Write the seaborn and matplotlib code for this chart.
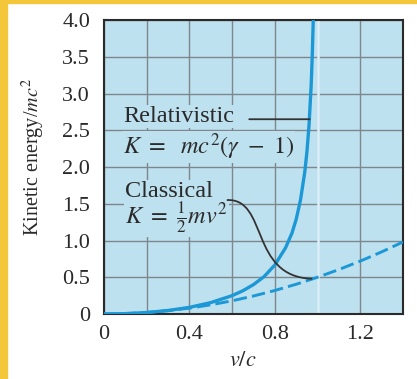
"""Kinetic energy vs v/c: relativistic and classical curves."""
import matplotlib
matplotlib.use("Agg")
import matplotlib.pyplot as plt
from matplotlib.patches import Rectangle, PathPatch
from matplotlib.path import Path
import pandas as pd
import seaborn as sns

# values
rel_v = [0.0, 0.1, 0.2, 0.3, 0.4, 0.5, 0.6, 0.65, 0.7, 0.75, 0.8, 0.85, 0.88,
         0.9, 0.92, 0.94, 0.95, 0.96, 0.97, 0.975, 0.98]
rel_k = [0.0, 0.005, 0.02, 0.048, 0.09, 0.155, 0.25, 0.316, 0.40, 0.51, 0.667,
         0.90, 1.10, 1.29, 1.55, 1.93, 2.20, 2.57, 3.11, 3.50, 4.02]
cls_v = [0.0, 0.1, 0.2, 0.3, 0.4, 0.5, 0.6, 0.7, 0.8, 0.9, 1.0, 1.1, 1.2, 1.3, 1.4]
cls_k = [0.0, 0.005, 0.02, 0.045, 0.08, 0.125, 0.18, 0.245, 0.32, 0.405, 0.5,
         0.605, 0.72, 0.845, 0.98]
x_ticks = [0.0, 0.2, 0.4, 0.6, 0.8, 1.0, 1.2, 1.4]
x_labels = ["0", "", "0.4", "", "0.8", "", "1.2", ""]
y_ticks = [0.0, 0.5, 1.0, 1.5, 2.0, 2.5, 3.0, 3.5, 4.0]
y_labels = ["0", "0.5", "1.0", "1.5", "2.0", "2.5", "3.0", "3.5", "4.0"]

BG = "#bee1ef"
CURVE = "#1b98d5"
YELLOW = "#f4c73a"
INK = "#2a2a2a"

sns.set_style("white")
plt.rcParams["font.family"] = ["Liberation Serif", "DejaVu Serif"]
plt.rcParams["mathtext.fontset"] = "stix"

rel = pd.DataFrame({"v": rel_v, "K": rel_k})
cls = pd.DataFrame({"v": cls_v, "K": cls_k})

fig = plt.figure(figsize=(4.17, 3.79), dpi=100)
ax = fig.add_axes([104 / 417, 65 / 379, 299 / 417, 294 / 379])
ax.set_facecolor(BG)

ax.set_xlim(0, 1.4)
ax.set_ylim(0, 4.0)
ax.set_xticks(x_ticks)
ax.set_xticklabels(x_labels)
ax.set_yticks(y_ticks)
ax.set_yticklabels(y_labels)
ax.grid(True, color="#7d878d", lw=1.0, zorder=0)
ax.set_axisbelow(True)
ax.tick_params(axis="x", length=0, pad=8, labelsize=16, colors=INK)
ax.tick_params(axis="y", length=4, width=0.8, color="#7d878d", pad=6,
               labelsize=16, labelcolor=INK)
for s in ax.spines.values():
    s.set_color(INK)
    s.set_linewidth(1.5)

# asymptote at v = c
ax.axvline(1.0, color="#dcf0f9", lw=1.8, zorder=1)

sns.lineplot(data=cls, x="v", y="K", ax=ax, color=CURVE, lw=2.1,
             linestyle=(0, (4.6, 1.8)), zorder=3)
sns.lineplot(data=rel, x="v", y="K", ax=ax, color=CURVE, lw=2.4, zorder=4)

ax.set_xlabel("$v/c$", fontsize=16, color=INK)
ax.set_ylabel("Kinetic energy/$mc^2$", fontsize=14.5, color=INK)
ax.xaxis.set_label_coords(0.465, -0.13)
ax.yaxis.set_label_coords(-0.19, 0.535)

box = dict(facecolor=BG, edgecolor="none", pad=0.5)
ax.text(0.089, 2.69, "Relativistic", fontsize=17.5, va="center", ha="left",
        color=INK, bbox=box, zorder=5)
ax.text(0.089, 2.27, r"$K\ =\ \ mc^2(\gamma\ -\ 1)$", fontsize=17.5,
        va="center", ha="left", color=INK, bbox=box, zorder=5)
ax.text(0.098, 1.67, "Classical", fontsize=17.5, va="center", ha="left",
        color=INK, bbox=box, zorder=5)
ax.text(0.098, 1.30, r"$K\ =\ \frac{1}{2}mv^2$", fontsize=17.5, va="center",
        ha="left", color=INK, bbox=box, zorder=5)

# leader lines
ax.annotate("", xy=(0.963, 2.65), xytext=(0.68, 2.65),
            arrowprops=dict(arrowstyle="-", color="#333", lw=1.3,
                            shrinkA=0, shrinkB=0), zorder=5)
leader = Path([(0.575, 1.55), (0.77, 1.58), (0.68, 0.50), (0.975, 0.48)],
              [Path.MOVETO, Path.CURVE4, Path.CURVE4, Path.CURVE4])
ax.add_patch(PathPatch(leader, fill=False, edgecolor="#333", lw=1.3, zorder=5))

# yellow page border
fig.add_artist(Rectangle((0, 0), 7 / 417, 1, transform=fig.transFigure,
                         color=YELLOW, zorder=10))
fig.add_artist(Rectangle((0, 1 - 3 / 379), 1, 3 / 379, transform=fig.transFigure,
                         color=YELLOW, zorder=10))

fig.savefig("out.png", dpi=100)
